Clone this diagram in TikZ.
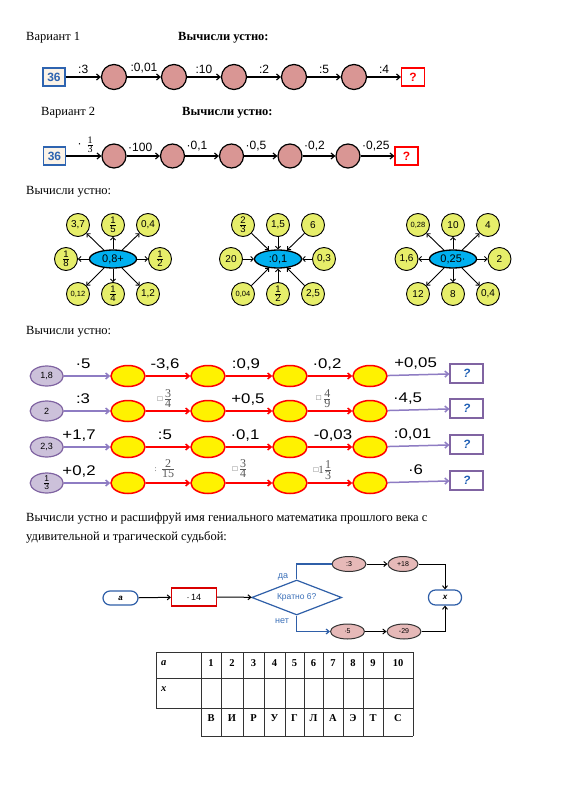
\documentclass[tikz,border=0pt]{standalone}
\usepackage{amsmath}
\usepackage{fontspec}
\setmainfont{Liberation Serif}
\setsansfont{Liberation Sans}
\newfontfamily\widesans[FakeStretch=1.2]{Liberation Sans}
\usetikzlibrary{arrows.meta,shapes.geometric}
\newcommand{\myfrac}[2]{\ensuremath{\genfrac{}{}{0.5pt}{}{\mbox{#1}}{\mbox{#2}}}}
\newcommand{\pfrac}[2]{{\fontsize{9.5}{10}\selectfont\myfrac{#1}{#2}}}
\newcommand{\smtxt}[1]{{\fontsize{7.5}{9}\selectfont #1}}
\newcommand{\gfrac}[2]{{\fontsize{12}{13}\selectfont\myfrac{#1}{#2}}}
\newcommand{\sq}{\raisebox{1pt}{\fontsize{8}{9}\selectfont □}}
\definecolor{boxblue}{HTML}{2E64B0}
\definecolor{cream}{HTML}{FBF3E8}
\definecolor{pinkc}{HTML}{D99694}
\definecolor{petal}{HTML}{E6EE6A}
\definecolor{cyanE}{HTML}{00B0F0}
\definecolor{lav}{HTML}{CCC1DA}
\definecolor{purp}{HTML}{8064A2}
\definecolor{purpl}{HTML}{8E7CC3}
\definecolor{qblue}{HTML}{1F5FB5}
\definecolor{fb}{HTML}{2F5FA8}
\definecolor{fbt}{HTML}{3A6FB8}
\definecolor{fpink}{HTML}{E6B9B8}
\definecolor{fgrey}{HTML}{595959}
\begin{document}
\begin{tikzpicture}[x=1pt,y=-1pt,
  txt/.style={anchor=base west, inner sep=0pt, font=\fontsize{12.5}{15}\selectfont},
  btxt/.style={anchor=base west, inner sep=0pt, font=\fontsize{12.5}{15}\selectfont\bfseries},
  box36/.style={draw=boxblue, line width=1.2pt, fill=cream, minimum width=22pt, minimum height=18pt, inner sep=0pt, font=\sffamily\bfseries\fontsize{12}{14}\selectfont, text=boxblue},
  qbox/.style={draw=red, line width=1.2pt, fill=white, minimum width=23pt, minimum height=18pt, inner sep=0pt, font=\sffamily\bfseries\fontsize{12}{14}\selectfont, text=red},
  pc/.style={circle, draw=black, line width=1.2pt, fill=pinkc, minimum size=25pt, inner sep=0pt},
  arr/.style={line width=1.2pt, -{Straight Barb[length=3.5pt,width=6pt]}},
  lab/.style={font=\sffamily\fontsize{12}{14}\selectfont, inner sep=1pt},
  pet/.style={circle, draw=black, line width=0.9pt, fill=petal, minimum size=23pt, inner sep=0pt, font=\sffamily\fontsize{10}{12}\selectfont},
  cen/.style={ellipse, draw=black, line width=1.3pt, fill=cyanE, minimum width=47pt, minimum height=18pt, inner sep=0pt, font=\sffamily\fontsize{11}{13}\selectfont},
  farr/.style={line width=0.9pt, -{Straight Barb[length=2.5pt,width=5pt]}},
  st/.style={ellipse, draw=purp, line width=1.2pt, fill=lav, minimum width=33pt, minimum height=20pt, inner sep=0pt, font=\sffamily\fontsize{9}{11}\selectfont},
  ye/.style={ellipse, draw=red, line width=1.5pt, fill=yellow, minimum width=34pt, minimum height=21pt, inner sep=0pt},
  qq/.style={draw=purp, line width=1.5pt, fill=white, minimum width=33pt, minimum height=19pt, inner sep=0pt, font=\sffamily\itshape\bfseries\fontsize{12}{14}\selectfont, text=qblue},
  rarr/.style={red, line width=1.5pt, -{Straight Barb[length=3.5pt,width=6pt]}},
  parr/.style={purpl, line width=1.5pt, -{Straight Barb[length=3.5pt,width=6pt]}},
  rl/.style={font=\widesans\fontsize{14}{16}\selectfont, text=black, inner sep=0pt, anchor=base, yshift=7.5pt},
  fl/.style={font=\rmfamily\fontsize{11}{12}\selectfont, text=fgrey, inner sep=0pt, anchor=south},
  term/.style={draw=fb, line width=1.2pt, rounded corners=7pt, minimum width=35pt, minimum height=14pt, inner sep=0pt, font=\sffamily\bfseries\itshape\fontsize{8}{10}\selectfont},
  fbox/.style={draw=red!85!black, line width=1.2pt, fill=white, minimum width=45pt, minimum height=18pt, inner sep=0pt, font=\sffamily\fontsize{9}{11}\selectfont},
  dia/.style={diamond, aspect=2.57, draw=fb, line width=1.2pt, fill=white, minimum width=90pt, minimum height=35pt, inner sep=0pt, font=\sffamily\fontsize{8.5}{10}\selectfont, text=fbt},
  pe/.style={ellipse, draw=black!80, line width=1pt, fill=fpink, minimum width=34pt, minimum height=15pt, inner sep=0pt, font=\sffamily\fontsize{7}{8}\selectfont},
  karr/.style={line width=1pt, -{Straight Barb[length=3pt,width=5pt]}},
  barr/.style={draw=fb, line width=1.2pt},
  btl/.style={font=\sffamily\fontsize{9}{11}\selectfont, text=fbt, inner sep=0pt},
  tb/.style={font=\bfseries\fontsize{10.5}{12}\selectfont, inner sep=0pt},
  tline/.style={line width=0.6pt, draw=black!80}
]
\fill[white] (0,0) rectangle (566,800);
\useasboundingbox (0,0) rectangle (566,800);

% ---------- headings ----------
\node[txt] (h1) at (26,40.7) {Вариант 1};
\node[btxt] (h1b) at (178,40.7) {Вычисли устно:};
\node[txt] (h2) at (41,115) {Вариант 2};
\node[btxt] (h2b) at (182,115) {Вычисли устно:};
\node[txt] (h3) at (26,194) {Вычисли устно:};
\node[txt] (h4) at (26,334) {Вычисли устно:};
\node[txt] (h5) at (26,521.5) {Вычисли устно и расшифруй имя гениального математика прошлого века с};
\node[txt] (h6) at (26,540) {удивительной и трагической судьбой:};

% ---------- chain 1 ----------
\node[box36] (a0) at (54,77) {36};
\node[pc] (a1) at (114,77) {};
\node[pc] (a2) at (174,77) {};
\node[pc] (a3) at (234,77) {};
\node[pc] (a4) at (294,77) {};
\node[pc] (a5) at (354,77) {};
\node[qbox] (a6) at (413,77) {?};
\draw[arr] (a0) -- node[lab,above=2pt] {:3} (a1);
\draw[arr] (a1) -- node[lab,above=2pt] {:0,01} (a2);
\draw[arr] (a2) -- node[lab,above=2pt] {:10} (a3);
\draw[arr] (a3) -- node[lab,above=2pt] {:2} (a4);
\draw[arr] (a4) -- node[lab,above=2pt] {:5} (a5);
\draw[arr] (a5) -- node[lab,above=2pt] {:4} (a6);

% ---------- chain 2 ----------
\node[box36] (b0) at (54.5,156) {36};
\node[pc,minimum size=24pt] (b1) at (114,156) {};
\node[pc,minimum size=24pt] (b2) at (172.5,156) {};
\node[pc,minimum size=24pt] (b3) at (231.5,156) {};
\node[pc,minimum size=24pt] (b4) at (290,156) {};
\node[pc,minimum size=24pt] (b5) at (348,156) {};
\node[qbox] (b6) at (406.5,156) {?};
\draw[arr] (b0) -- node[anchor=south, inner sep=0pt, yshift=3pt, xshift=2pt] {\sffamily\fontsize{12}{14}\selectfont·\hspace{5pt}\rmfamily\fontsize{10}{11}\selectfont\myfrac{1}{3}} (b1);
\draw[arr] (b1) -- node[pos=0, lab, anchor=south west, yshift=3pt] {·100} (b2);
\draw[arr] (b2) -- node[pos=0, lab, anchor=south west, yshift=3pt] {·0,1} (b3);
\draw[arr] (b3) -- node[pos=0, lab, anchor=south west, yshift=3pt] {·0,5} (b4);
\draw[arr] (b4) -- node[pos=0, lab, anchor=south west, yshift=3pt] {·0,2} (b5);
\draw[arr] (b5) -- node[pos=0, lab, anchor=south west, yshift=3pt] {·0,25} (b6);

% ---------- flowers ----------
\node[cen] (f1) at (113,259) {0,8+};
\foreach \n/\dx/\dy/\t in {1/-35/-34/{3,7}, 2/0/-34/{\pfrac{1}{5}}, 3/35/-34/{0,4}, 4/-47/0/{\pfrac{1}{8}}, 5/47/0/{\pfrac{1}{2}}, 6/-35/35/{\smtxt{0,12}}, 7/0/35/{\pfrac{1}{4}}, 8/35/35/{1,2}}
{
  \node[pet] (f1p\n) at (\dx+113,\dy+259) {\t};
  \draw[farr] (f1) -- (f1p\n);
}
\node[cen] (f2) at (278,259) {:0,1};
\foreach \n/\dx/\dy/\t in {1/-35/-34/{\pfrac{2}{3}}, 2/0/-34/{1,5}, 3/35/-34/{6}, 4/-47/0/{20}, 5/46/0/{0,3}, 6/-35/35/{\smtxt{0,04}}, 7/0/35/{\pfrac{1}{2}}, 8/35/35/{2,5}}
{
  \node[pet] (f2p\n) at (\dx+278,\dy+259) {\t};
  \draw[farr] (f2p\n) -- (f2);
}
\node[cen] (f3) at (453,259) {0,25·};
\foreach \n/\dx/\dy/\t in {1/-35/-34/{\smtxt{0,28}}, 2/0/-34/{10}, 3/35/-34/{4}, 4/-46.5/0/{1,6}, 5/46.5/0/{2}, 6/-35/35/{12}, 7/0/35/{8}, 8/35/35/{0,4}}
{
  \node[pet] (f3p\n) at (\dx+453,\dy+259) {\t};
  \draw[farr] (f3) -- (f3p\n);
}

% ---------- chains with yellow ellipses ----------
\foreach \r/\y in {1/376,2/411,3/447,4/483}
{
  \foreach \k/\x in {1/128,2/208,3/290,4/370}
    \node[ye] (y\r\k) at (\x,\y) {};
  \node[qq] (q\r) at (466.7,\y-2.5) {?};
}
\node[st] (s1) at (46.7,376) {1,8};
\node[st] (s2) at (46.7,411) {2};
\node[st] (s3) at (46.7,447) {2,3};
\node[st] (s4) at (46.7,483) {{\fontsize{8.5}{9}\selectfont\myfrac{1}{3}}};

\draw[parr] (s1) -- node[rl, xshift=-4pt] {·5} (y11);
\draw[rarr] (y11) -- node[rl, xshift=-3pt] {-3,6} (y12);
\draw[rarr] (y12) -- node[rl, xshift=-3pt] {:0,9} (y13);
\draw[rarr] (y13) -- node[rl, xshift=-3pt] {·0,2} (y14);
\draw[parr] (y14) -- node[rl, xshift=-3pt] {+0,05} (q1);

\draw[parr] (s2) -- node[rl, xshift=-4pt] {:3} (y21);
\draw[rarr] (y21) -- node[fl, xshift=-3pt, yshift=2.5pt] {\sq\hspace{1.5pt}\gfrac{3}{4}} (y22);
\draw[rarr] (y22) -- node[rl, xshift=-1pt] {+0,5} (y23);
\draw[rarr] (y23) -- node[fl, xshift=-6pt, yshift=2.5pt] {\sq\hspace{2pt}\gfrac{4}{9}} (y24);
\draw[parr] (y24) -- node[rl, xshift=-11pt] {·4,5} (q2);

\draw[parr] (s3) -- node[rl, xshift=-8pt] {+1,7} (y31);
\draw[rarr] (y31) -- node[rl, xshift=-3pt] {:5} (y32);
\draw[rarr] (y32) -- node[rl, xshift=-4pt] {·0,1} (y33);
\draw[rarr] (y33) -- node[rl, xshift=3pt] {-0,03} (y34);
\draw[parr] (y34) -- node[rl, xshift=-6pt] {:0,01} (q3);

\draw[parr] (s4) -- node[rl, xshift=-8pt] {+0,2} (y41);
\draw[rarr] (y41) -- node[fl, xshift=-3pt, yshift=4.5pt] {{\fontsize{8}{9}\selectfont:}\hspace{4pt}\gfrac{2}{15}} (y42);
\draw[rarr] (y42) -- node[fl, xshift=-9pt, yshift=4.5pt] {\sq\hspace{1.5pt}\gfrac{3}{4}} (y43);
\draw[rarr] (y43) -- node[fl, xshift=-7pt, yshift=3pt] {\sq{}1\gfrac{1}{3}} (y44);
\draw[parr] (y44) -- node[rl, xshift=-3pt] {·6} (q4);

% ---------- flowchart ----------
\node[term] (ta) at (120.5,598) {a};
\node[fbox] (m14) at (194,597) {·\,14};
\node[dia] (dq) at (296.7,597.5) {Кратно 6?};
\node[pe] (e1) at (349,564) {:3};
\node[pe, minimum width=30pt] (e2) at (403,564) {+18};
\node[pe] (e3) at (347.5,631.5) {·5};
\node[pe] (e4) at (404,631.5) {-29};
\node[term, minimum width=33pt, minimum height=15pt] (tx) at (445,597.5) {x};
\draw[karr] (ta) -- (m14);
\draw[karr] (m14) -- (dq);
\draw[barr] (dq.north) |- (e1.west);
\draw[barr, -{Straight Barb[length=3pt,width=5pt]}] (dq.south) |- (e3.west);
\draw[karr] (e1) -- (e2);
\draw[karr] (e3) -- (e4);
\draw[karr] (e2.east) -| (tx.north);
\draw[karr] (e4.east) -| (tx.south);
\node[btl] (lda) at (283,577) {да};
\node[btl] (lnet) at (282,621) {нет};

% ---------- table ----------
\draw[tline] (156,652) -- (413,652);
\draw[tline] (156,678) -- (413,678);
\draw[tline] (156,708) -- (413,708);
\draw[tline] (201,736) -- (413,736);
\draw[tline] (156,652) -- (156,708);
\foreach \xx in {201,221,243,264,285,304,323,343,363,383,413}
  \draw[tline] (\xx,652) -- (\xx,736);
\node[tb, anchor=west] (ta1) at (161,663) {\itshape a};
\node[tb, anchor=west] (tx1) at (161,689) {\itshape x};
\foreach \i/\xc/\num/\lt in {1/211/1/В, 2/232/2/И, 3/253.5/3/Р, 4/274.5/4/У, 5/294.5/5/Г, 6/313.5/6/Л, 7/333/7/А, 8/353/8/Э, 9/373/9/Т, 10/398/10/С}
{
  \node[tb] (n\i) at (\xc,663) {\num};
  \node[tb] (l\i) at (\xc,718) {\lt};
}
\end{tikzpicture}
\end{document}
